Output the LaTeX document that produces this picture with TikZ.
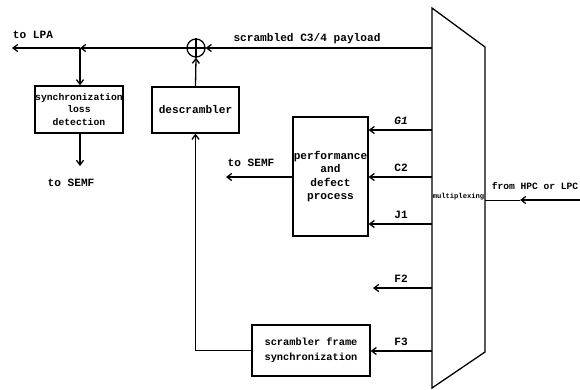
\documentclass[tikz,border=0pt]{standalone}
\usepackage{fontspec}
\setmainfont{Liberation Mono}
\usetikzlibrary{arrows.meta, positioning}

\begin{document}
\begin{tikzpicture}[x=0.03cm, y=-0.03cm,
    font=\bfseries\fontsize{9.5}{11.5}\selectfont,
    line width=1.1pt,
    arr/.style={-{Straight Barb[length=4pt,width=6pt]}},
    block/.style={draw, align=center, inner sep=0pt},
    lbl/.style={inner sep=1pt}]

    % ==========================================
    % FRAME (keeps the page size)
    % ==========================================
    \useasboundingbox (0,0) rectangle (580,390);

    % ==========================================
    % MULTIPLEXER (RIGHT)
    % ==========================================
    \coordinate (mtl) at (432,8);
    \coordinate (mtr) at (485,47);
    \coordinate (mbr) at (485,352);
    \coordinate (mbl) at (432,388);
    \draw (mtl) -- (mtr) -- (mbr) -- (mbl) -- cycle;
    \node[inner sep=0pt, font=\bfseries\fontsize{6.1}{7}\selectfont] (mux) at (458.5,197) {multiplexing};

    % Input from the right
    \coordinate (inR) at (580,200);
    \coordinate (inM) at (520,200);
    \coordinate (inL) at (485,200);
    \draw[arr] (inR) -- (inM);
    \draw[line width=0.6pt] (inM) -- (inL);
    \node[lbl, font=\bfseries\fontsize{8.2}{10}\selectfont] (from) at (535,186) {from HPC or LPC};

    % ==========================================
    % BLOCKS
    % ==========================================
    \node[block, minimum width=88*0.03cm, minimum height=47*0.03cm,
          font=\bfseries\fontsize{8.3}{10.6}\selectfont] (sync) at (79,109.5)
          {synchronization\\loss\\detection};
    \node[block, minimum width=87*0.03cm, minimum height=46*0.03cm] (desc) at (195.5,110) {descrambler};
    \node[block, minimum width=75*0.03cm, minimum height=119*0.03cm] (perf) at (330.5,176.5)
          {performance\\and\\defect\\process};
    \node[block, minimum width=118*0.03cm, minimum height=51*0.03cm,
          font=\bfseries\fontsize{8.8}{13}\selectfont] (fsync) at (311,350.5)
          {scrambler frame\\synchronization};

    % XOR
    \node[draw, circle, minimum size=18*0.03cm, inner sep=0pt] (xor) at (196,48) {};
    \draw (xor.north) -- (xor.south) (xor.west) -- (xor.east);

    % ==========================================
    % PAYLOAD PATH (TOP)
    % ==========================================
    \coordinate (pay) at (432,48);
    \coordinate (jn) at (80,48);
    \coordinate (lpa) at (12,48);
    \draw[arr] (pay) -- (xor.east);
    \draw[arr] (xor.west) -- (jn);
    \draw[arr] (jn) -- (lpa);
    \node[lbl] (paylbl) at (307,39) {scrambled C3/4 payload};
    \node[lbl] (lpalbl) at (33,35) {to LPA};

    \draw[arr] (jn) -- (jn |- sync.north);
    \coordinate (semfA) at (80,166);
    \draw[arr] (sync.south -| jn) -- (semfA);
    \node[lbl] (semfAlbl) at (71,183) {to SEMF};

    \draw[arr] (desc.north) -- (xor.south);
    \draw[arr] (fsync.west) -| (desc.south);

    % ==========================================
    % OVERHEAD BYTES
    % ==========================================
    \coordinate (g1) at (432,130);
    \coordinate (c2) at (432,177);
    \coordinate (j1) at (432,224);
    \coordinate (f2) at (432,288);
    \coordinate (f2end) at (373,288);
    \coordinate (f3) at (432,351);
    \draw[arr] (g1) -- (g1 -| perf.east);
    \draw[arr] (c2) -- (c2 -| perf.east);
    \draw[arr] (j1) -- (j1 -| perf.east);
    \draw[arr] (f2) -- (f2end);
    \draw[arr] (f3) -- (f3 -| fsync.east);
    \node[lbl] (g1lbl) at (401,121) {\itshape G1};
    \node[lbl] (c2lbl) at (401,168) {C2};
    \node[lbl] (j1lbl) at (401,215) {J1};
    \node[lbl] (f2lbl) at (401,279) {F2};
    \node[lbl] (f3lbl) at (401,342) {F3};

    \coordinate (semfB) at (226,177);
    \draw[arr] (perf.west |- c2) -- (semfB);
    \node[lbl] (semfBlbl) at (251,163) {to SEMF};

\end{tikzpicture}
\end{document}
